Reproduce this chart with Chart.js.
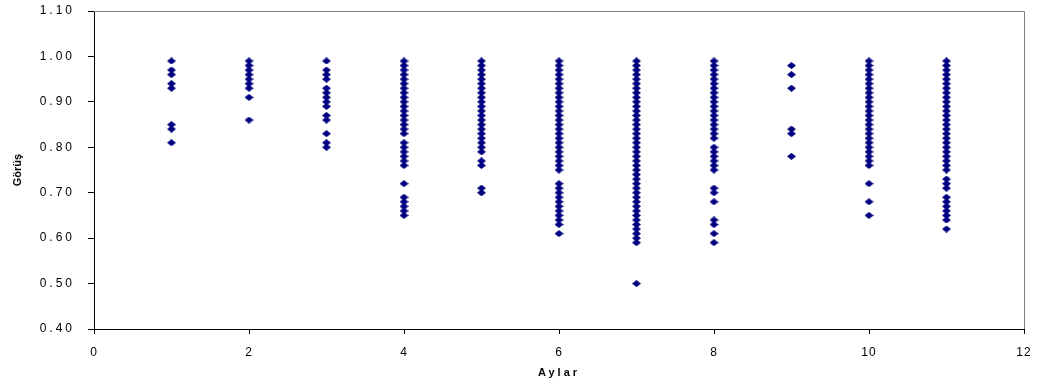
<!DOCTYPE html>
<html>
<head>
<meta charset="utf-8">
<script src="https://cdn.jsdelivr.net/npm/chart.js@4"></script>
<style>
  html, body { margin: 0; padding: 0; background: #fff; }
  #wrap { width: 1037px; height: 385px; position: relative; }
</style>
</head>
<body>
<div id="wrap"><canvas id="chart"></canvas></div>
<script>
// Aylar (months) and the Görüş values observed in each month
const months = [1, 2, 3, 4, 5, 6, 7, 8, 9, 10, 11];

const ay1 = [0.99, 0.97, 0.96, 0.94, 0.93, 0.85, 0.84, 0.81];
const ay2 = [0.99, 0.98, 0.97, 0.96, 0.95, 0.94, 0.93, 0.91, 0.86];
const ay3 = [0.99, 0.97, 0.96, 0.95, 0.93, 0.92, 0.91, 0.90, 0.89, 0.87, 0.86, 0.83, 0.81, 0.80];
const ay4 = [0.99, 0.98, 0.97, 0.96, 0.95, 0.94, 0.93, 0.92, 0.91, 0.90, 0.89, 0.88, 0.87, 0.86, 0.85, 0.84, 0.83,
             0.81, 0.80, 0.79, 0.78, 0.77, 0.76, 0.72, 0.69, 0.68, 0.67, 0.66, 0.65];
const ay5 = [0.99, 0.98, 0.97, 0.96, 0.95, 0.94, 0.93, 0.92, 0.91, 0.90, 0.89, 0.88, 0.87, 0.86, 0.85, 0.84, 0.83,
             0.82, 0.81, 0.80, 0.79, 0.77, 0.76, 0.71, 0.70];
const ay6 = [0.99, 0.98, 0.97, 0.96, 0.95, 0.94, 0.93, 0.92, 0.91, 0.90, 0.89, 0.88, 0.87, 0.86, 0.85, 0.84, 0.83,
             0.82, 0.81, 0.80, 0.79, 0.78, 0.77, 0.76, 0.75, 0.72, 0.71, 0.70, 0.69, 0.68, 0.67, 0.66, 0.65,
             0.64, 0.63, 0.61];
const ay7 = [0.99, 0.98, 0.97, 0.96, 0.95, 0.94, 0.93, 0.92, 0.91, 0.90, 0.89, 0.88, 0.87, 0.86, 0.85, 0.84, 0.83,
             0.82, 0.81, 0.80, 0.79, 0.78, 0.77, 0.76, 0.75, 0.74, 0.73, 0.72, 0.71, 0.70, 0.69, 0.68, 0.67,
             0.66, 0.65, 0.64, 0.63, 0.62, 0.61, 0.60, 0.59, 0.50];
const ay8 = [0.99, 0.98, 0.97, 0.96, 0.95, 0.94, 0.93, 0.92, 0.91, 0.90, 0.89, 0.88, 0.87, 0.86, 0.85, 0.84, 0.83,
             0.82, 0.80, 0.79, 0.78, 0.77, 0.76, 0.75, 0.71, 0.70, 0.68, 0.64, 0.63, 0.61, 0.59];
const ay9 = [0.98, 0.96, 0.93, 0.84, 0.83, 0.78];
const ay10 = [0.99, 0.98, 0.97, 0.96, 0.95, 0.94, 0.93, 0.92, 0.91, 0.90, 0.89, 0.88, 0.87, 0.86, 0.85, 0.84, 0.83,
              0.82, 0.81, 0.80, 0.79, 0.78, 0.77, 0.76, 0.72, 0.68, 0.65];
const ay11 = [0.99, 0.98, 0.97, 0.96, 0.95, 0.94, 0.93, 0.92, 0.91, 0.90, 0.89, 0.88, 0.87, 0.86, 0.85, 0.84, 0.83,
              0.82, 0.81, 0.80, 0.79, 0.78, 0.77, 0.76, 0.75, 0.73, 0.72, 0.71, 0.69, 0.68, 0.67, 0.66, 0.65,
              0.64, 0.62];

const yTicks = ['0.40', '0.50', '0.60', '0.70', '0.80', '0.90', '1.00', '1.10'];

const byMonth = [ay1, ay2, ay3, ay4, ay5, ay6, ay7, ay8, ay9, ay10, ay11];
const points = [];
months.forEach((m, i) => {
    byMonth[i].forEach(v => points.push({ x: m, y: v }));
});

// flattened navy diamond like the spreadsheet marker
function makeDiamond() {
    const c = document.createElement('canvas');
    c.width = 9;
    c.height = 7;
    const g = c.getContext('2d');
    g.fillStyle = '#000080';
    g.beginPath();
    g.moveTo(0, 3.5);
    g.lineTo(4.5, 0);
    g.lineTo(9, 3.5);
    g.lineTo(4.5, 7);
    g.closePath();
    g.fill();
    return c;
}

// wrap a scale method so its text is drawn with a given letter spacing
function withSpacing(scale, method, spacing) {
    const orig = scale[method].bind(scale);
    scale[method] = function (...args) {
        const c = this.ctx;
        const old = c.letterSpacing;
        c.letterSpacing = spacing;
        orig(...args);
        c.letterSpacing = old;
    };
}

// gray frame on top and right of the plot area, spacing of the texts
const framePlugin = {
    id: 'frame',
    afterLayout(chart) {
        const { x, y } = chart.scales;
        if (!x._spaced) {
            withSpacing(x, 'drawLabels', '1px');
            withSpacing(x, 'drawTitle', '3px');
            withSpacing(y, 'drawLabels', '3px');
            withSpacing(y, 'drawTitle', '0px');
            x._spaced = true;
        }
    },
    afterDraw(chart) {
        const { ctx, chartArea: a } = chart;
        ctx.save();
        ctx.strokeStyle = '#808080';
        ctx.lineWidth = 1;
        ctx.beginPath();
        ctx.moveTo(a.left, a.top + 0.5);
        ctx.lineTo(a.right + 0.5, a.top + 0.5);
        ctx.lineTo(a.right + 0.5, a.bottom);
        ctx.stroke();
        ctx.restore();
    }
};

new Chart(document.getElementById('chart'), {
    type: 'scatter',
    data: {
        datasets: [{
            label: 'Görüş',
            data: points,
            pointStyle: makeDiamond(),
            backgroundColor: '#000080',
            borderColor: '#000080'
        }]
    },
    options: {
        responsive: true,
        maintainAspectRatio: false,
        animation: false,
        layout: { padding: 0 },
        plugins: {
            legend: { display: false },
            tooltip: { enabled: false }
        },
        scales: {
            x: {
                min: 0,
                max: 12,
                ticks: {
                    stepSize: 2,
                    color: '#000',
                    padding: 11,
                    maxRotation: 0,
                    font: { family: 'Liberation Sans', size: 12 }
                },
                grid: { drawOnChartArea: false, drawTicks: true, tickLength: 5, color: '#000' },
                border: { color: '#000' },
                title: {
                    display: true,
                    text: 'Aylar',
                    color: '#000',
                    font: { family: 'Liberation Sans', size: 11, weight: 'bold' },
                    padding: { top: 4, bottom: 5 }
                },
                afterFit(scale) {
                    scale.height = 56;
                    scale.paddingLeft = 0;
                    scale.paddingRight = 13;
                }
            },
            y: {
                min: 0.4,
                max: 1.1,
                ticks: {
                    stepSize: 0.1,
                    color: '#000',
                    padding: 13,
                    font: { family: 'Liberation Sans', size: 12 },
                    callback: (v, i) => yTicks[i]
                },
                grid: { drawOnChartArea: false, drawTicks: true, tickLength: 6, color: '#000' },
                border: { color: '#000' },
                title: {
                    display: true,
                    text: 'Görüş',
                    color: '#000',
                    font: { family: 'Liberation Sans', size: 11, weight: 'bold' },
                    padding: { top: 11, bottom: 0 }
                },
                afterFit(scale) {
                    scale.width = 94;
                    scale.paddingTop = 11;
                    scale.paddingBottom = 0;
                }
            }
        }
    },
    plugins: [framePlugin]
});
</script>
</body>
</html>
